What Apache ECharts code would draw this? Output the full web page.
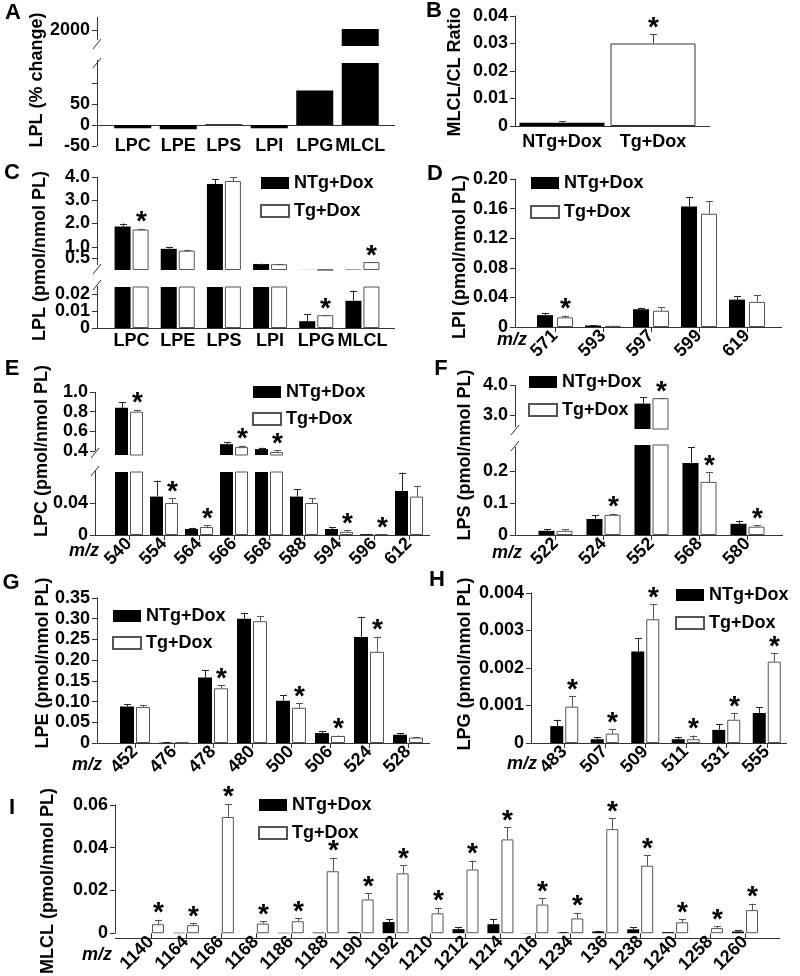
<!DOCTYPE html>
<html><head><meta charset="utf-8">
<script src="https://cdn.jsdelivr.net/npm/echarts@6.0.0/dist/echarts.min.js"></script>
<style>html,body{margin:0;padding:0;background:#fff}#c{width:800px;height:976px}</style>
</head><body><div id="c"></div>
<script>
// ---------------- DATA ----------------
const catA = ['LPC','LPE','LPS','LPI','LPG','MLCL'];
const valA = [-8, -10, 2, -8, 82, 2010];

const catB = ['NTg+Dox','Tg+Dox'];
const valB = [0.0012, 0.0300];
const errB = [0.0005, 0.0034];
const sigB = [0, 1];

const catC = ['LPC','LPE','LPS','LPI','LPG','MLCL'];
const ntgC = [1.87, 0.91, 3.70, 0.26, 0.004, 0.016];
const ntgCErr = [0.13, 0.09, 0.20, 0.01, 0.004, 0.006];
const tgC = [1.74, 0.83, 3.83, 0.25, 0.0075, 0.34];
const tgCErr = [0.04, 0.04, 0.17, 0.01, 0.0002, 0.01];
const tgCSig = [1, 0, 0, 0, 1, 1];

const catD = ['571','593','597','599','619'];
const ntgD = [0.016, 0.002, 0.024, 0.163, 0.037];
const ntgDErr = [0.003, 0.0005, 0.002, 0.013, 0.005];
const tgD = [0.013, 0.0015, 0.022, 0.153, 0.034];
const tgDErr = [0.0025, 0.0005, 0.005, 0.017, 0.009];
const tgDSig = [1, 0, 0, 0, 0];

const catE = ['540','554','564','566','568','588','594','596','612'];
const ntgE = [0.84, 0.048, 0.0075, 0.47, 0.42, 0.048, 0.0075, 0.001, 0.055];
const ntgEErr = [0.06, 0.02, 0.0015, 0.02, 0.015, 0.0095, 0.0025, 0.0003, 0.023];
const tgE = [0.80, 0.040, 0.010, 0.44, 0.39, 0.040, 0.004, 0.001, 0.048];
const tgEErr = [0.02, 0.006, 0.0025, 0.015, 0.02, 0.006, 0.002, 0.0003, 0.013];
const tgESig = [1, 1, 1, 1, 1, 0, 1, 1, 0];

const catF = ['522','524','552','568','580'];
const ntgF = [0.013, 0.050, 3.38, 0.225, 0.035];
const ntgFErr = [0.005, 0.0125, 0.22, 0.05, 0.01];
const tgF = [0.013, 0.063, 3.56, 0.166, 0.026];
const tgFErr = [0.005, 0.004, 0.01, 0.03, 0.005];
const tgFSig = [0, 1, 1, 1, 1];

const catG = ['452','476','478','480','500','506','524','528'];
const ntgG = [0.088, 0.001, 0.158, 0.300, 0.102, 0.024, 0.256, 0.020];
const ntgGErr = [0.005, 0.0003, 0.018, 0.014, 0.013, 0.005, 0.049, 0.003];
const tgG = [0.087, 0.001, 0.132, 0.294, 0.085, 0.017, 0.220, 0.013];
const tgGErr = [0.005, 0.0003, 0.008, 0.013, 0.012, 0.001, 0.037, 0.002];
const tgGSig = [0, 0, 1, 0, 1, 1, 1, 0];

const catH = ['483','507','509','511','531','555'];
const ntgH = [0.00045, 0.0001, 0.00244, 0.0001, 0.00035, 0.0008];
const ntgHErr = [0.00017, 0.00006, 0.00036, 0.00006, 0.00015, 0.00016];
const tgH = [0.00097, 0.00025, 0.0033, 0.0001, 0.00062, 0.00217];
const tgHErr = [0.00028, 0.00012, 0.0004, 0.0001, 0.00018, 0.00023];
const tgHSig = [1, 1, 1, 1, 1, 1];

const catI = ['1140','1164','1166','1168','1186','1188','1190','1192','1210','1212','1214','1216','1234','136','1238','1240','1258','1260'];
const ntgI = [0, 0.0002, 0, 0, 0.0002, 0.0003, 0.0005, 0.0052, 0, 0.0019, 0.0042, 0.0001, 0.0003, 0.0008, 0.0018, 0.0005, 0, 0.0008];
const ntgIErr = [0, 0, 0, 0, 0, 0, 0.0001, 0.0015, 0, 0.0009, 0.0024, 0, 0.0001, 0.0004, 0.001, 0.0001, 0, 0.0007];
const tgI = [0.0042, 0.0038, 0.0544, 0.0045, 0.0056, 0.029, 0.0158, 0.028, 0.0093, 0.0298, 0.0439, 0.0134, 0.0069, 0.0487, 0.0316, 0.0051, 0.0024, 0.0108];
const tgIErr = [0.0021, 0.001, 0.0062, 0.0011, 0.0016, 0.0063, 0.003, 0.0037, 0.0026, 0.0042, 0.0056, 0.003, 0.0027, 0.0053, 0.0049, 0.0015, 0.0008, 0.003];
const tgISig = [1,1,1,1,1,1,1,1,1,1,1,1,1,1,1,1,1,1];

// ---------------- STYLE / BUILD ----------------
const FONT = '"Liberation Sans", Arial, Helvetica, sans-serif';
const AX = '#333';
const BLACK = {color:'#000'};
const WHITE = {color:'#fff', borderColor:'#555', borderWidth:1};
const grids = [], xAxes = [], yAxes = [], series = [], legends = [], graphics = [];

function errRenderer(offset, mode, split, color) {
  return function (params, api) {
    const i = api.value(0), v = api.value(1), e = api.value(2), s = api.value(3);
    const top = v + e;
    if (mode === 'lower' && top > split) return null;
    if (mode === 'upper' && top <= split) return null;
    const p0 = api.coord([i, v]), p1 = api.coord([i, top]);
    const x = Math.round(p0[0] + offset) + 0.5;
    const ch = [];
    if (e > 0) {
      ch.push({type:'line', shape:{x1:x, y1:p0[1], x2:x, y2:p1[1]}, style:{stroke:color, lineWidth:1}});
      ch.push({type:'line', shape:{x1:x-3.5, y1:Math.round(p1[1])+0.5, x2:x+3.5, y2:Math.round(p1[1])+0.5}, style:{stroke:color, lineWidth:1}});
    }
    if (s) ch.push({type:'text', x:x, y:p1[1]-6, style:{text:'*', font:'bold 28px ' + FONT, fill:'#000', align:'center', verticalAlign:'middle'}});
    return {type:'group', children:ch};
  };
}

function yAxisDef(gi, sg, p, n, labels, ticks, withLine) {
  const ya = {
    gridIndex:gi, type:'value', position:'left', min:sg.min, max:sg.max, offset:p.left - p.axisX,
    axisLine:{show:withLine && n === 1, onZero:false, lineStyle:{color:AX}},
    axisTick:{show:withLine, length:5, lineStyle:{color:AX}},
    axisLabel:{formatter:sg.fmt, fontSize:18, fontWeight:'bold', color:'#000', fontFamily:FONT, margin:7,
               hideOverlap:false, showMinLabel:true, showMaxLabel:true},
    splitLine:{show:false}
  };
  if (sg.interval) ya.interval = sg.interval;
  if (ticks) ya.axisTick.customValues = ticks;
  if (labels) ya.axisLabel.customValues = labels;
  return ya;
}

function buildPanel(p) {
  const n = p.segs.length;
  const split = n > 1 ? p.segs[n-1].max : null;
  p.segs.forEach((sg, k) => {
    const gi = grids.length;
    const isBottom = k === n - 1;
    grids.push({left:p.left, top:sg.top, width:p.width, height:sg.height, containLabel:false});
    // bottom axis raised to the value 0 when the range goes below zero
    const zeroOffset = sg.min < 0 ? -sg.height * (0 - sg.min) / (sg.max - sg.min) : 0;
    xAxes.push({
      gridIndex:gi, type:'category', position:'bottom', data:p.cats, show:isBottom, offset:zeroOffset,
      axisLine:{show:false, onZero:false, lineStyle:{color:AX}},
      axisTick:{show:!!p.xTicks, alignWithLabel:true, length:5, lineStyle:{color:AX}},
      axisLabel:{interval:0, rotate:p.rotate || 0, margin:p.labelMargin, fontSize:18, fontWeight:'bold', color:'#000', fontFamily:FONT, hideOverlap:false},
      splitLine:{show:false}
    });
    const yi = yAxes.length;
    yAxes.push(yAxisDef(gi, sg, p, n, sg.labels, sg.ticks, true));
    // labels that sit too close to their neighbours go on a twin axis of the same grid
    if (sg.labels2) yAxes.push(yAxisDef(gi, sg, p, n, sg.labels2, null, false));
    const ng = p.groups.length;
    p.groups.forEach((g, j) => {
      const off = ng === 1 ? 0 : (j === 0 ? -1 : 1) * (p.barW + p.gapPx) / 2;
      series.push({
        type:'bar', name:g.name, xAxisIndex:gi, yAxisIndex:yi,
        data:g.vals.map((v, i) => g.itemStyles ? {value:v, itemStyle:g.itemStyles[i]} : v),
        barWidth:p.barW, barGap:(p.gapPx / p.barW * 100) + '%',
        itemStyle:g.style, clip:true, silent:true
      });
      if (g.errs) {
        series.push({
          type:'custom', name:g.name + ' err', xAxisIndex:gi, yAxisIndex:yi,
          renderItem:errRenderer(off, n > 1 ? (k === 0 ? 'upper' : 'lower') : null, split, g.errColor || '#333'),
          data:g.vals.map((v, i) => [i, v, g.errs[i], g.sigs ? g.sigs[i] : 0]),
          encode:{x:0, y:1}, clip:false, silent:true, z:5
        });
      }
    });
  });
  if (p.legend) {
    legends.push({left:p.legend[0], top:p.legend[1] - 9, orient:'vertical', itemWidth:28, itemHeight:12,
      itemGap:p.legend[2] - 18, icon:'rect', padding:0, selectedMode:false,
      textStyle:{fontSize:18, fontWeight:'bold', fontFamily:FONT, color:'#000', lineHeight:18},
      data:['NTg+Dox','Tg+Dox']});
  }
}

const f1 = v => v.toFixed(1);
const f2 = v => v === 0 ? '0' : v.toFixed(2);
const f3 = v => v === 0 ? '0' : v.toFixed(3);
const f0 = v => String(v);
const grpN = (vals, errs) => ({name:'NTg+Dox', vals, errs, style:BLACK, errColor:'#222'});
const grpT = (vals, errs, sigs) => ({name:'Tg+Dox', vals, errs, sigs, style:WHITE, errColor:'#555'});

// A
buildPanel({cats:catA, left:110, width:273, axisX:97, barW:37, gapPx:0, labelMargin:12,
  groups:[{name:'A', vals:valA, style:BLACK}],
  segs:[{top:17, height:29, min:1840, max:2130, ticks:[2000], labels:[2000], fmt:f0},
        {top:63, height:83, min:-50, max:147.6, ticks:[-50,0,50,100], labels:[-50,0,50], fmt:f0}]});
// B
buildPanel({cats:catB, left:516.5, width:182, axisX:515, barW:85, gapPx:0, labelMargin:7,
  groups:[{name:'B', vals:valB, errs:errB, sigs:sigB, style:BLACK, errColor:'#444',
           itemStyles:[{color:'#000'}, {color:'#fff', borderColor:'#333', borderWidth:1}]}],
  segs:[{top:16, height:110, min:0, max:0.04, interval:0.01, fmt:f2}]});
// C
buildPanel({cats:catC, left:108.5, width:277, axisX:97, barW:16, gapPx:2, labelMargin:4,
  groups:[grpN(ntgC, ntgCErr), grpT(tgC, tgCErr, tgCSig)],
  segs:[{top:177, height:93, min:0, max:4, ticks:[0.5,1,2,3,4], labels:[0.5,2,3,4], labels2:[1], fmt:f1},
        {top:287, height:41, min:0, max:0.0241, ticks:[0,0.01,0.02], labels:[0,0.02], labels2:[0.01], fmt:f2}],
  legend:[260, 183, 28]});
// D
buildPanel({cats:catD, left:531, width:240, axisX:515, barW:16, gapPx:4, labelMargin:6, rotate:45, xTicks:true,
  groups:[grpN(ntgD, ntgDErr), grpT(tgD, tgDErr, tgDSig)],
  segs:[{top:179, height:148, min:0, max:0.2, interval:0.04, fmt:f2}],
  legend:[530, 183, 29]});
// E
buildPanel({cats:catE, left:111.5, width:315, axisX:95, barW:13, gapPx:2, labelMargin:6, rotate:45, xTicks:true,
  groups:[grpN(ntgE, ntgEErr), grpT(tgE, tgEErr, tgESig)],
  segs:[{top:392, height:63, min:0.36, max:1.0, ticks:[0.4,0.6,0.8,1.0], labels:[0.4,0.6,0.8,1.0], fmt:f1},
        {top:472, height:63, min:0, max:0.07875, ticks:[0,0.04], labels:[0,0.04], fmt:f2}],
  legend:[252, 392, 27]});
// F
buildPanel({cats:catF, left:531.5, width:240, axisX:515, barW:16, gapPx:2, labelMargin:6, rotate:45, xTicks:true,
  groups:[grpN(ntgF, ntgFErr), grpT(tgF, tgFErr, tgFSig)],
  segs:[{top:385, height:44, min:2.533, max:4.0, ticks:[3,4], labels:[3,4], fmt:f1},
        {top:445, height:90, min:0, max:0.28125, ticks:[0,0.1,0.2], labels:[0,0.1,0.2], fmt:v => v === 0 ? '0' : v.toFixed(1)}],
  legend:[528, 382, 28]});
// G
buildPanel({cats:catG, left:115.5, width:312, axisX:97, barW:14, gapPx:2, labelMargin:6, rotate:45, xTicks:true,
  groups:[grpN(ntgG, ntgGErr), grpT(tgG, tgGErr, tgGSig)],
  segs:[{top:598, height:145, min:0, max:0.35, interval:0.05, fmt:f2}],
  legend:[112, 616, 27]});
// H
buildPanel({cats:catH, left:544, width:243, axisX:531, barW:13, gapPx:2, labelMargin:6, rotate:45, xTicks:true,
  groups:[grpN(ntgH, ntgHErr), grpT(tgH, tgHErr, tgHSig)],
  segs:[{top:593, height:150, min:0, max:0.004, interval:0.001, fmt:f3}],
  legend:[675, 595, 28]});
// I
buildPanel({cats:catI, left:133.5, width:629, axisX:115, barW:12, gapPx:2, labelMargin:6, rotate:45, xTicks:true,
  groups:[grpN(ntgI, ntgIErr), grpT(tgI, tgIErr, tgISig)],
  segs:[{top:805, height:133, min:0, max:0.06, interval:0.02, fmt:f2}],
  legend:[258, 805, 28]});

// ---------------- DECORATION ----------------
function gl(x1, y1, x2, y2) { graphics.push({type:'line', silent:true, shape:{x1, y1, x2, y2}, style:{stroke:AX, lineWidth:1}}); }
function gt(text, x, y, font, rot) { graphics.push({type:'text', silent:true, x, y, rotation:rot || 0, style:{text, font, fill:'#000', align:'center', verticalAlign:'middle'}}); }
function slash(x, y) { gl(x - 4, y + 5, x + 4, y - 5); }
// A axes
gl(97.5, 17, 97.5, 40); gl(97.5, 60, 97.5, 146); gl(97, 125.5, 395, 125.5); slash(97, 44); slash(97, 63);
// B
gl(515, 126.5, 710, 126.5);
// C
gl(97.5, 177, 97.5, 265); gl(97.5, 286, 97.5, 328); gl(97, 328.5, 395, 328.5); slash(97, 269); slash(97, 285);
// D
gl(515, 327.5, 782, 327.5);
// E
gl(95.5, 392, 95.5, 451); gl(95.5, 471, 95.5, 535); gl(95, 535.5, 430, 535.5); slash(95, 453); slash(95, 471);
// F
gl(515.5, 385, 515.5, 427); gl(515.5, 447, 515.5, 535); gl(515, 535.5, 783, 535.5); slash(515, 430); slash(515, 446);
// G
gl(97, 743.5, 430, 743.5);
// H
gl(531, 743.5, 787, 743.5);
// I
gl(115, 938.5, 780, 938.5);

const LF = 'bold 22px ' + FONT;
gt('A', 13, 13, LF); gt('B', 434, 11, LF); gt('C', 12, 173, LF); gt('D', 435, 174, LF);
gt('E', 12, 369, LF); gt('F', 441, 369, LF); gt('G', 11, 583, LF); gt('H', 437, 580, LF); gt('I', 12, 808, LF);
const NF = 'bold 18px ' + FONT, R = Math.PI / 2;
gt('LPL (% change)', 37, 80, NF, R);
gt('MLCL/CL Ratio', 455, 72, NF, R);
gt('LPL (pmol/nmol PL)', 40, 256, NF, R);
gt('LPI (pmol/nmol PL)', 460, 257, NF, R);
gt('LPC (pmol/nmol PL)', 42, 451, NF, R);
gt('LPS (pmol/nmol PL)', 465, 455, NF, R);
gt('LPE (pmol/nmol PL)', 43, 663, NF, R);
gt('LPG (pmol/nmol PL)', 465, 664, NF, R);
gt('MLCL (pmol/nmol PL)', 48, 881, NF, R);
const MF = 'italic bold 18px ' + FONT;
gt('m/z', 512, 340, MF); gt('m/z', 84, 551, MF); gt('m/z', 507, 553, MF);
gt('m/z', 87, 765, MF); gt('m/z', 522, 764, MF); gt('m/z', 97, 955, MF);

const chart = echarts.init(document.getElementById('c'), null, {renderer:'canvas'});
chart.setOption({
  backgroundColor:'#fff', animation:false, textStyle:{fontFamily:FONT},
  grid:grids, xAxis:xAxes, yAxis:yAxes, series:series, legend:legends, graphic:graphics
});
</script></body></html>
